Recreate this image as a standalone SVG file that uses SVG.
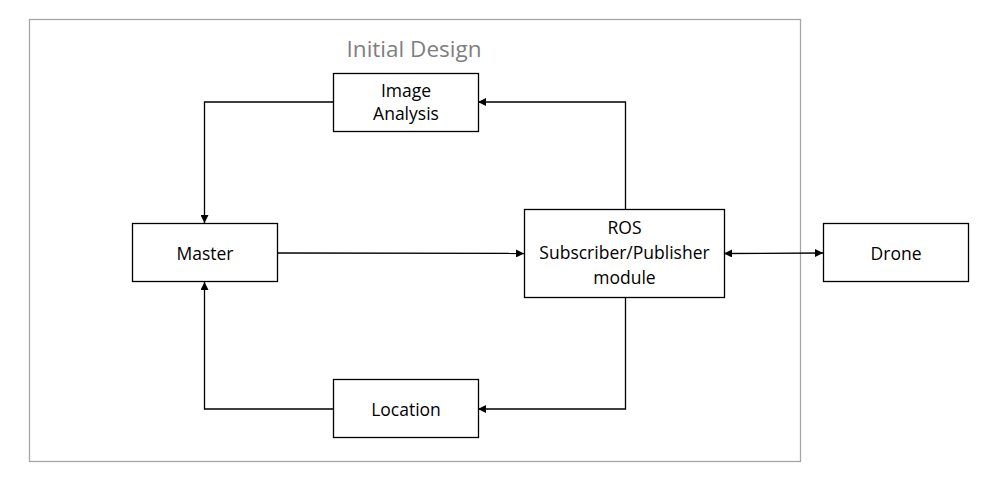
<svg xmlns="http://www.w3.org/2000/svg" width="996" height="487" viewBox="0 0 996 487">
<style>
.box{fill:#fff;stroke:#000;stroke-width:1.3}
.t{font-family:"Open Sans","Liberation Sans",sans-serif;font-size:17.5px;fill:#000;text-anchor:middle}
.ln{fill:none;stroke:#000;stroke-width:1.3}
</style>
<defs>
<marker id="ah" viewBox="0 0 10 10" refX="10" refY="5" markerWidth="8" markerHeight="8" markerUnits="userSpaceOnUse" orient="auto-start-reverse">
<path d="M0,0 L10,5 L0,10 z" fill="#000"/>
</marker>
</defs>
<rect width="996" height="487" fill="#fff"/>
<g id="frame">
<rect x="29.5" y="19.5" width="771" height="442" fill="none" stroke="#a6a6a6" stroke-width="1.3"/>
<text x="414" y="57" font-family="Open Sans,Liberation Sans,sans-serif" font-size="22.5" fill="#7f7f7f" text-anchor="middle">Initial Design</text>
</g>
<g id="connectors">
<polyline class="ln" points="333,102 204.5,102 204.5,223" marker-end="url(#ah)"/>
<polyline class="ln" points="333,409 204.5,409 204.5,282" marker-end="url(#ah)"/>
<line class="ln" x1="277" y1="253" x2="524" y2="253.5" marker-end="url(#ah)"/>
<polyline class="ln" points="625.5,209 625.5,102 478,102" marker-end="url(#ah)"/>
<polyline class="ln" points="625.5,298 625.5,409 478,409" marker-end="url(#ah)"/>
<line class="ln" x1="724" y1="253.5" x2="823" y2="253" marker-start="url(#ah)" marker-end="url(#ah)"/>
</g>
<g id="image-analysis">
<rect class="box" x="333.5" y="73.5" width="145" height="58"/>
<text class="t" x="406" y="97">Image</text>
<text class="t" x="406" y="120">Analysis</text>
</g>
<g id="master">
<rect class="box" x="132.5" y="223.5" width="145" height="58"/>
<text class="t" x="205" y="259.5">Master</text>
</g>
<g id="ros">
<rect class="box" x="524.5" y="209.5" width="200" height="88"/>
<text class="t" x="624.5" y="234">ROS</text>
<text class="t" x="624.5" y="259">Subscriber/Publisher</text>
<text class="t" x="624.5" y="284">module</text>
</g>
<g id="drone">
<rect class="box" x="823.5" y="223.5" width="145" height="58"/>
<text class="t" x="896" y="259.5">Drone</text>
</g>
<g id="location">
<rect class="box" x="333.5" y="379.5" width="145" height="58"/>
<text class="t" x="406" y="415.5">Location</text>
</g>
</svg>
